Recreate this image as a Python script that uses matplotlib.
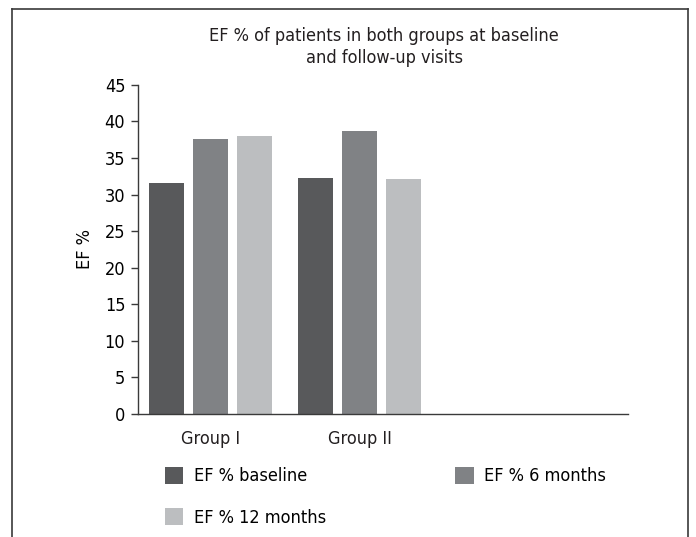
import matplotlib
matplotlib.use('Agg')
import matplotlib.pyplot as plt
from matplotlib.lines import Line2D
from matplotlib import font_manager
import numpy as np

# pick a narrow font if there is one
names = {f.name for f in font_manager.fontManager.ttflist}
family = 'Liberation Sans Narrow' if 'Liberation Sans Narrow' in names else 'DejaVu Sans'
plt.rcParams['font.family'] = [family, 'DejaVu Sans']
if family == 'DejaVu Sans':
    plt.rcParams['font.stretch'] = 'condensed'

groups = ['Group I', 'Group II']
series = ['EF % baseline', 'EF % 6 months', 'EF % 12 months']
baseline = [31.6, 32.3]
six_months = [37.6, 38.7]
twelve_months = [38.0, 32.1]
colors = ['#58595b', '#808285', '#bcbec0']
yticks = list(range(0, 46, 5))

fig = plt.figure(figsize=(6.96, 5.37), dpi=100)
ax = fig.add_axes([0.198, 0.229, 0.704, 0.613])

x = np.arange(len(groups))
w = 35 / 149
step = 44 / 149
bars = []
for i, (vals, c, lab) in enumerate(zip([baseline, six_months, twelve_months], colors, series)):
    b = ax.bar(x + (i - 1) * step, vals, width=w, color=c, label=lab)
    bars.append(b)

ax.set_ylim(0, 45)
ax.set_yticks(yticks)
ax.set_xlim(-0.49, 2.80)
ax.set_xticks([])
for s in ['top', 'right']:
    ax.spines[s].set_visible(False)
for s in ['left', 'bottom']:
    ax.spines[s].set_color('#3a3a3a')
    ax.spines[s].set_linewidth(1.0)
ax.tick_params(axis='y', length=5, width=1, color='#3a3a3a', labelsize=13, pad=4)
ax.set_ylabel('EF %', fontsize=13, labelpad=8)

for xi, g in zip(x, groups):
    ax.text(xi, -0.075, g, transform=ax.get_xaxis_transform(), ha='center', va='center',
            fontsize=13, color='#231f20')

fig.text(0.552, 0.912, 'EF % of patients in both groups at baseline\nand follow-up visits',
         ha='center', va='center', fontsize=13, color='#231f20', linespacing=1.3)

# legend, row order: baseline, 6 months / 12 months
hs = [bars[0], bars[2], bars[1]]
ls = [series[0], series[2], series[1]]
fig.legend(hs, ls, ncol=2, loc='upper left', bbox_to_anchor=(0.226, 0.144),
           frameon=False, fontsize=13, handlelength=1.05, handleheight=1.05,
           handletextpad=0.6, columnspacing=7.1, labelspacing=1.25, borderaxespad=0)

# outer box, open at the bottom
kw = dict(color='#3a3a3a', lw=1.2, transform=fig.transFigure)
fig.add_artist(Line2D([0.017, 0.017], [0, 0.983], **kw))
fig.add_artist(Line2D([0.017, 0.988], [0.983, 0.983], **kw))
fig.add_artist(Line2D([0.988, 0.988], [0, 0.983], **kw))

fig.savefig('out.png', dpi=100)
